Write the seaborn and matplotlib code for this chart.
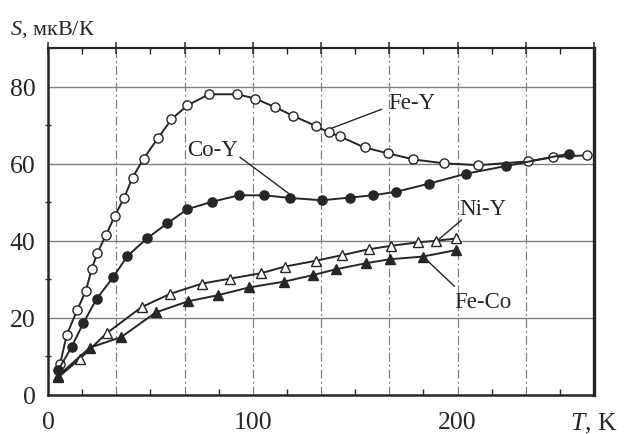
import numpy as np
import pandas as pd
import matplotlib
matplotlib.use("Agg")
import matplotlib.pyplot as plt
import seaborn as sns

# Thermopower S(T) of binary amorphous alloys
fe_y_T = [5.9, 9.1, 14.3, 18.5, 21.3, 24.1, 28.3, 32.7, 37.2, 41.3, 46.7, 53.8, 60.3, 68.0,
          78.7, 92.5, 101.1, 110.7, 119.7, 130.7, 137.1, 142.4, 154.6, 165.9, 178.5, 193.2,
          210.2, 234.6, 246.8, 263.4]
fe_y_S = [8.0, 15.5, 22.1, 27.0, 32.6, 36.8, 41.5, 46.5, 51.2, 56.4, 61.3, 66.7, 71.5, 75.1,
          78.0, 78.0, 76.9, 74.7, 72.4, 69.8, 68.1, 67.1, 64.2, 62.7, 61.1, 60.1,
          59.6, 60.6, 61.7, 62.2]

co_y_T = [5.0, 11.5, 17.2, 23.7, 31.9, 38.7, 48.3, 58.2, 68.1, 80.0, 93.3, 105.5, 118.4,
          133.7, 147.3, 158.7, 170.0, 186.0, 204.2, 223.8, 254.6]
co_y_S = [6.5, 12.4, 18.6, 24.9, 30.6, 36.0, 40.6, 44.5, 48.2, 50.1, 51.8, 51.8, 51.1,
          50.5, 51.2, 51.8, 52.7, 54.8, 57.4, 59.4, 62.6]

ni_y_T = [5.0, 15.4, 28.6, 45.7, 59.5, 75.2, 89.1, 104.2, 115.6, 130.7, 143.8, 156.7,
          167.6, 180.8, 189.6, 199.4]
ni_y_S = [4.6, 9.3, 16.0, 22.8, 26.2, 28.9, 30.2, 31.6, 33.3, 34.8, 36.3, 37.8,
          38.7, 39.6, 40.0, 40.6]

fe_co_T = [5.0, 20.5, 35.7, 52.6, 68.4, 83.1, 98.2, 115.3, 129.4, 140.5, 155.5, 166.8,
           183.0, 199.4]
fe_co_S = [5.0, 12.3, 15.0, 21.4, 24.3, 25.9, 27.9, 29.4, 31.1, 32.6, 34.2, 35.2,
           35.9, 37.6]

x_tick_labels = ["0", "", "", "100", "", "", "200", "", "$T$, K"]
y_tick_values = [0, 20, 40, 60, 80]

sns.set_theme(style="white")
plt.rcParams["font.family"] = ["Liberation Serif", "DejaVu Serif"]
plt.rcParams["mathtext.fontset"] = "custom"
plt.rcParams["mathtext.it"] = "Liberation Serif:italic"
plt.rcParams["mathtext.rm"] = "Liberation Serif"

ink = "#262626"
grid_c = "#808080"

fig = plt.figure(figsize=(6.24, 4.35), dpi=100)
ax = fig.add_axes([48 / 624, 1 - 396 / 435, (594 - 48) / 624, (396 - 49) / 435])

xmax = 800 / 3
step = xmax / 8

# grid: solid horizontal, dash-dot vertical
for yv in [20, 40, 60, 80]:
    ax.axhline(yv, color=grid_c, lw=1.0, zorder=0)
for k in range(1, 8):
    ax.axvline(k * step, color=grid_c, lw=0.9, ls=(0, (7, 2.5, 1.5, 2.5)), zorder=0)

series = [
    (fe_y_T, fe_y_S, "o", "white"),
    (co_y_T, co_y_S, "o", ink),
    (ni_y_T, ni_y_S, "^", "white"),
    (fe_co_T, fe_co_S, "^", ink),
]
for T, S, mk, fc in series:
    df = pd.DataFrame({"T": T, "S": S})
    sns.lineplot(data=df, x="T", y="S", ax=ax, color=ink, lw=1.4, marker=mk,
                 markersize=6.6, markerfacecolor=fc, markeredgecolor=ink,
                 markeredgewidth=1.0, sort=False, estimator=None, zorder=3)

# curve labels with leader lines
lab_fs = 16.5
ax.plot([137.1, 162.9], [68.9, 74.1], color=ink, lw=1.0, zorder=2)
ax.text(166, 75.8, "Fe-Y", fontsize=lab_fs, ha="left", va="center", color=ink)
ax.plot([93.7, 118.0], [61.7, 52.1], color=ink, lw=1.0, zorder=2)
ax.text(92.8, 63.8, "Co-Y", fontsize=lab_fs, ha="right", va="center", color=ink)
ax.plot([189.8, 202.0], [39.9, 45.4], color=ink, lw=1.0, zorder=2)
ax.text(201, 48.5, "Ni-Y", fontsize=lab_fs, ha="left", va="center", color=ink)
ax.plot([183.0, 198.5], [36.0, 28.2], color=ink, lw=1.0, zorder=2)
ax.text(198.5, 24.2, "Fe-Co", fontsize=lab_fs, ha="left", va="center", color=ink)

ax.set_xlim(0, xmax)
ax.set_ylim(0, 90)
ax.set_xlabel("")
ax.set_ylabel("")

ax.set_xticks([k * step for k in range(9)])
ax.set_xticklabels(x_tick_labels, fontsize=18.5, color=ink)
ax.set_xticks([(k + 0.5) * step for k in range(8)], minor=True)
ax.set_yticks(y_tick_values)
ax.set_yticklabels([str(v) for v in y_tick_values], fontsize=18.5, color=ink)
ax.set_yticks([10, 30, 50, 70], minor=True)

ax.tick_params(axis="x", which="major", direction="inout", length=9, width=1.1,
               color=ink, pad=7, top=True)
ax.tick_params(axis="x", which="minor", direction="in", length=4, width=1.0,
               color=ink, top=True, bottom=True)
ax.tick_params(axis="y", which="major", direction="out", length=8, width=1.1,
               color=ink, pad=1)
ax.tick_params(axis="y", which="minor", direction="inout", length=5, width=1.0,
               color=ink, left=True)

for side, w in [("left", 1.8), ("bottom", 1.8), ("top", 1.6), ("right", 2.4)]:
    ax.spines[side].set_visible(True)
    ax.spines[side].set_color(ink)
    ax.spines[side].set_linewidth(w)

fig.text(10 / 624, 1 - 30 / 435, "$S$, мкВ/К", fontsize=16, ha="left", va="center",
         color=ink)

fig.savefig("out.png", dpi=100, facecolor="white")
